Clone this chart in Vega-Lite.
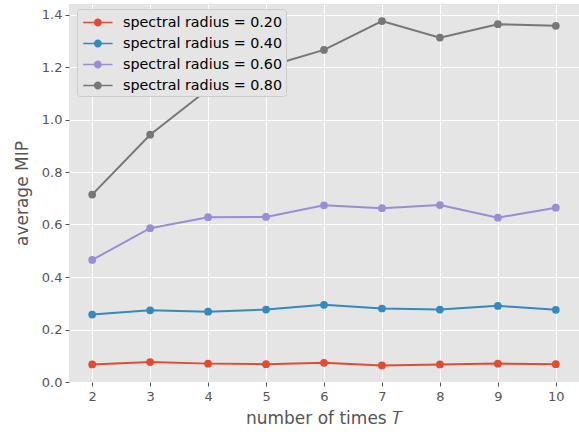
{
  "$schema": "https://vega.github.io/schema/vega-lite/v6.json",
  "width": 510,
  "height": 378,
  "autosize": {"type": "none"},
  "padding": {"left": 69, "top": 4, "right": 0, "bottom": 50},
  "background": "white",
  "config": {
    "font": "DejaVu Sans",
    "view": {"fill": "#E5E5E5", "stroke": null},
    "axis": {
      "domain": false,
      "grid": true,
      "gridColor": "white",
      "gridWidth": 1,
      "tickColor": "#555555",
      "tickSize": 4,
      "labelColor": "#555555",
      "labelFontSize": 13,
      "labelFont": "DejaVu Sans",
      "titleColor": "#555555",
      "titleFontSize": 17,
      "titleFontWeight": "normal",
      "titleFont": "DejaVu Sans"
    }
  },
  "data": {
    "values": [
      {"T": 2, "s": "spectral radius = 0.20", "v": 0.067},
      {"T": 3, "s": "spectral radius = 0.20", "v": 0.076},
      {"T": 4, "s": "spectral radius = 0.20", "v": 0.070},
      {"T": 5, "s": "spectral radius = 0.20", "v": 0.068},
      {"T": 6, "s": "spectral radius = 0.20", "v": 0.073},
      {"T": 7, "s": "spectral radius = 0.20", "v": 0.063},
      {"T": 8, "s": "spectral radius = 0.20", "v": 0.067},
      {"T": 9, "s": "spectral radius = 0.20", "v": 0.070},
      {"T": 10, "s": "spectral radius = 0.20", "v": 0.068},
      {"T": 2, "s": "spectral radius = 0.40", "v": 0.257},
      {"T": 3, "s": "spectral radius = 0.40", "v": 0.273},
      {"T": 4, "s": "spectral radius = 0.40", "v": 0.268},
      {"T": 5, "s": "spectral radius = 0.40", "v": 0.276},
      {"T": 6, "s": "spectral radius = 0.40", "v": 0.294},
      {"T": 7, "s": "spectral radius = 0.40", "v": 0.280},
      {"T": 8, "s": "spectral radius = 0.40", "v": 0.276},
      {"T": 9, "s": "spectral radius = 0.40", "v": 0.290},
      {"T": 10, "s": "spectral radius = 0.40", "v": 0.275},
      {"T": 2, "s": "spectral radius = 0.60", "v": 0.465},
      {"T": 3, "s": "spectral radius = 0.60", "v": 0.586},
      {"T": 4, "s": "spectral radius = 0.60", "v": 0.628},
      {"T": 5, "s": "spectral radius = 0.60", "v": 0.629},
      {"T": 6, "s": "spectral radius = 0.60", "v": 0.673},
      {"T": 7, "s": "spectral radius = 0.60", "v": 0.662},
      {"T": 8, "s": "spectral radius = 0.60", "v": 0.674},
      {"T": 9, "s": "spectral radius = 0.60", "v": 0.626},
      {"T": 10, "s": "spectral radius = 0.60", "v": 0.664},
      {"T": 2, "s": "spectral radius = 0.80", "v": 0.714},
      {"T": 3, "s": "spectral radius = 0.80", "v": 0.942},
      {"T": 4, "s": "spectral radius = 0.80", "v": 1.115},
      {"T": 5, "s": "spectral radius = 0.80", "v": 1.20},
      {"T": 6, "s": "spectral radius = 0.80", "v": 1.265},
      {"T": 7, "s": "spectral radius = 0.80", "v": 1.375},
      {"T": 8, "s": "spectral radius = 0.80", "v": 1.312},
      {"T": 9, "s": "spectral radius = 0.80", "v": 1.363},
      {"T": 10, "s": "spectral radius = 0.80", "v": 1.357}
    ]
  },
  "encoding": {
    "x": {
      "field": "T",
      "type": "quantitative",
      "scale": {"domain": [1.6, 10.4], "nice": false, "zero": false},
      "axis": {"values": [2, 3, 4, 5, 6, 7, 8, 9, 10], "title": "number of times 𝑇", "titlePadding": 7, "labelPadding": 4}
    },
    "y": {
      "field": "v",
      "type": "quantitative",
      "scale": {"domain": [0, 1.44], "nice": false},
      "axis": {"values": [0, 0.2, 0.4, 0.6, 0.8, 1.0, 1.2, 1.4], "format": ".1f", "title": "average MIP", "titlePadding": 10, "labelPadding": 3}
    },
    "color": {
      "field": "s",
      "type": "nominal",
      "scale": {
        "domain": ["spectral radius = 0.20", "spectral radius = 0.40", "spectral radius = 0.60", "spectral radius = 0.80"],
        "range": ["#E24A33", "#348ABD", "#988ED5", "#777777"]
      },
      "legend": {
        "title": null,
        "orient": "none",
        "legendX": 8,
        "legendY": 5,
        "fillColor": "#E5E5E5",
        "strokeColor": "#CCCCCC",
        "cornerRadius": 3,
        "padding": 3,
        "symbolType": "M-0.7,-0.07 L2.1,-0.07 L2.1,0.07 L-0.7,0.07 Z M1.08,0 A0.38,0.38 0 1,1 0.32,0 A0.38,0.38 0 1,1 1.08,0 Z",
        "symbolSize": 441,
        "symbolStrokeWidth": 0,
        "symbolOpacity": 1,
        "labelFontSize": 14.3,
        "labelColor": "black",
        "labelFont": "DejaVu Sans",
        "labelOffset": 22,
        "rowPadding": 3,
        "labelLimit": 300
      }
    }
  },
  "layer": [
    {"mark": {"type": "line", "strokeWidth": 2}},
    {"mark": {"type": "point", "filled": true, "size": 60, "opacity": 1}}
  ]
}
